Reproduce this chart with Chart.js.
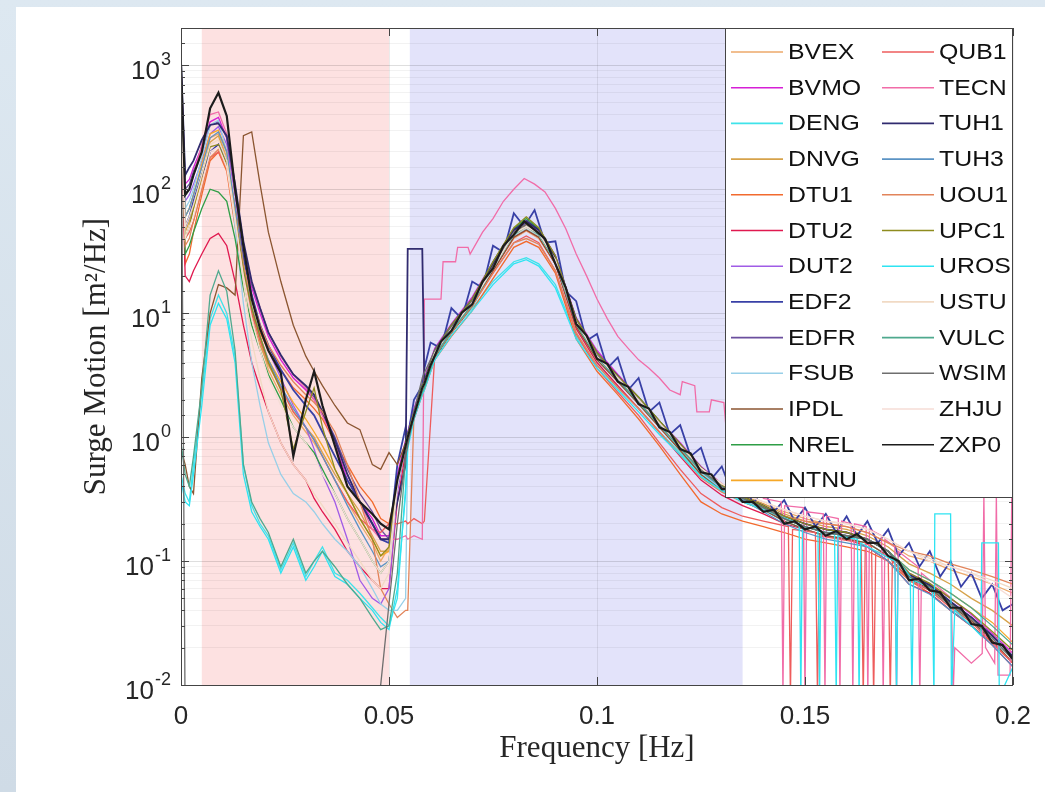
<!DOCTYPE html>
<html>
<head>
<meta charset="utf-8">
<script src="https://cdn.jsdelivr.net/npm/chart.js@4.4.1/dist/chart.umd.min.js"></script>
<style>
	html, body { margin: 0; padding: 0; }
	body { width: 1045px; height: 792px; position: relative; overflow: hidden; background: linear-gradient(180deg, #dde8f1 0%, #cfdbe6 100%); }
	#panel { position: absolute; left: 16px; top: 7px; right: 0; bottom: 0; background: #fff; }
	#chart { position: absolute; left: 0; top: 0; }
</style>
</head>
<body>
<div id="panel"></div>
<canvas id="chart" width="1045" height="792"></canvas>
<script>
// frequency grid [Hz], shared by all series
var freq = [0, 0.001, 0.002, 0.003, 0.005, 0.007, 0.009, 0.011, 0.013, 0.015,
	0.017, 0.019, 0.021, 0.024, 0.027, 0.030, 0.032, 0.034, 0.037, 0.040,
	0.043, 0.046, 0.048, 0.050, 0.052, 0.054, 0.0545, 0.056, 0.058, 0.0585,
	0.061, 0.065, 0.070, 0.075, 0.080, 0.083, 0.086, 0.090, 0.095, 0.100,
	0.105, 0.110, 0.115, 0.120, 0.125, 0.130, 0.135, 0.140, 0.145, 0.150,
	0.155, 0.160, 0.165, 0.170, 0.175, 0.180, 0.185, 0.190, 0.195, 0.200];

// surge PSD [m^2/Hz], one value per freq point
var bvex = [900, 60, 70, 90, 150, 260, 280, 180, 60, 22, 10, 6, 3.5, 2.2, 1.5, 1.1, 0.9, 0.7, 0.45, 0.3, 0.2, 0.14, 0.1,
	0.13, 0.4, 0.8, 0.95, 1.5, 2.4, 2.6, 4.6, 7.2, 12, 22, 40, 46, 40, 25, 8.2, 4.4, 2.9, 1.9, 1.25, 0.8, 0.52, 0.4, 0.33, 0.29, 0.25, 0.22, 0.2, 0.19, 0.17, 0.14, 0.11, 0.1, 0.085, 0.075, 0.065, 0.055];
var bvmo = [1000, 110, 120, 150, 220, 350, 380, 260, 95, 32, 16, 10, 6.5, 4.2, 3.0, 2.4, 2.0, 1.5, 0.9, 0.45, 0.3, 0.22, 0.16,
	0.16, 0.5, 0.95, 1.1, 1.7, 2.7, 3.0, 5.2, 8.2, 13.5, 26, 48, 56, 48, 29, 9.2, 5.0, 3.2, 2.1, 1.35, 0.9, 0.58, 0.42, 0.33, 0.28, 0.23, 0.2, 0.18, 0.17, 0.15, 0.12, 0.08, 0.065, 0.05, 0.037, 0.026, 0.018];
var deng = [0.5, 0.35, 0.3, 0.6, 2.2, 9, 14, 10, 4.5, 0.6, 0.28, 0.2, 0.16, 0.085, 0.14, 0.075, 0.1, 0.13, 0.08, 0.07, 0.055, 0.042, 0.035,
	0.03, 0.05, 0.4, 0.9, 1.5, 2.4, 2.6, 4.5, 7, 11, 18, 26, 28, 25, 17, 6.5, 3.8, 2.5, 1.7, 1.1, 0.75, 0.5, 0.38, 0.31, 0.26, 0.21, 0.18, 0.16, 0.15, 0.14, 0.11, 0.07, 0.058, 0.043, 0.032, 0.023, 0.015];
var dnvg = [700, 45, 55, 70, 120, 240, 270, 170, 55, 20, 9, 5.5, 3.8, 2.5, 1.6, 1.2, 1.0, 0.75, 0.5, 0.35, 0.25, 0.16, 0.12,
	0.12, 0.42, 0.85, 1.0, 1.55, 2.5, 2.7, 4.8, 7.5, 12.5, 24, 44, 50, 44, 27, 8.5, 4.6, 3.0, 2.0, 1.3, 0.85, 0.56, 0.42, 0.34, 0.29, 0.24, 0.21, 0.19, 0.18, 0.16, 0.13, 0.095, 0.08, 0.065, 0.05, 0.04, 0.03];
var dtu1 = [600, 25, 30, 45, 90, 170, 200, 140, 50, 20, 10, 7, 5, 3.5, 2.5, 2.0, 1.7, 1.4, 0.9, 0.6, 0.4, 0.3, 0.22,
	0.2, 0.4, 0.8, 0.9, 1.4, 2.2, 2.4, 4.2, 6.5, 10.5, 19, 34, 38, 34, 21, 6.2, 3.4, 2.2, 1.4, 0.85, 0.5, 0.3, 0.24, 0.21, 0.19, 0.17, 0.15, 0.14, 0.13, 0.12, 0.1, 0.07, 0.055, 0.04, 0.03, 0.022, 0.015];
var dtu2 = [500, 20, 18, 22, 30, 40, 44, 35, 18, 8, 4, 2.5, 1.6, 0.9, 0.6, 0.45, 0.32, 0.25, 0.18, 0.12, 0.09, 0.07, 0.06,
	0.06, 0.3, 0.75, 0.9, 1.45, 2.3, 2.5, 4.5, 7, 11.5, 22, 41, 47, 41, 25, 7.5, 4.0, 2.6, 1.7, 1.1, 0.7, 0.45, 0.34, 0.28, 0.24, 0.2, 0.18, 0.16, 0.15, 0.13, 0.1, 0.065, 0.055, 0.04, 0.03, 0.021, 0.014];
var dut2 = [900, 80, 90, 110, 170, 280, 320, 230, 90, 30, 14, 8, 5, 3, 1.8, 1.2, 0.8, 0.5, 0.3, 0.15, 0.07, 0.05, 0.045,
	0.06, 0.35, 0.9, 1.05, 1.6, 2.6, 2.8, 5.0, 7.8, 12.8, 25, 46, 53, 46, 28, 8.8, 4.7, 3.1, 2.0, 1.3, 0.86, 0.56, 0.41, 0.33, 0.27, 0.22, 0.19, 0.17, 0.16, 0.15, 0.12, 0.078, 0.064, 0.047, 0.035, 0.025, 0.017];
var edf2 = [800, 50, 60, 80, 130, 200, 230, 170, 70, 28, 14, 8, 5.5, 3.5, 2.4, 1.8, 1.5, 1.1, 0.7, 0.45, 0.3, 0.2, 0.15,
	0.14, 0.6, 1.2, 1.0, 2.0, 2.6, 3.6];
var edfr = [1000, 100, 110, 140, 200, 330, 350, 260, 100, 35, 17, 11, 7, 4.5, 3.2, 2.5, 2.1, 1.6, 1.0, 0.55, 0.35, 0.25, 0.18,
	0.15, 0.45, 0.9, 1.05, 1.6, 2.6, 2.9, 5.1, 8, 13, 25, 47, 56, 48, 29, 9, 4.8, 3.1, 2.1, 1.35, 0.88, 0.57, 0.41, 0.33, 0.28, 0.22, 0.19, 0.17, 0.16, 0.15, 0.12, 0.075, 0.063, 0.046, 0.035, 0.025, 0.017];
var fsub = [1100, 70, 80, 100, 180, 330, 360, 200, 50, 12, 4, 1.8, 0.9, 0.5, 0.35, 0.3, 0.25, 0.2, 0.15, 0.12, 0.09, 0.06, 0.045,
	0.04, 0.04, 0.05, 0.9, 1.5, 2.4, 2.6, 4.7, 7.3, 12, 23, 42, 48, 42, 26, 8.2, 4.4, 2.9, 1.9, 1.25, 0.8, 0.52, 0.38, 0.31, 0.26, 0.21, 0.18, 0.16, 0.15, 0.14, 0.11, 0.07, 0.06, 0.045, 0.033, 0.024, 0.016];
var ipdl = [0.8, 0.6, 0.4, 0.35, 3, 10, 17, 16, 14, 270, 290, 110, 45, 18, 8, 4.5, 3.4, 2.6, 1.8, 1.3, 1.15, 0.6, 0.55,
	0.75, 0.6, 0.9, 1.0, 1.4, 2.3, 2.5, 4.4, 6.9, 11.4, 22, 41, 47, 41, 25, 7.8, 4.2, 2.8, 1.85, 1.2, 0.78, 0.5, 0.37, 0.3, 0.26, 0.21, 0.18, 0.16, 0.15, 0.14, 0.11, 0.072, 0.06, 0.044, 0.033, 0.023, 0.015];
var nrel = [800, 30, 35, 45, 70, 100, 95, 80, 40, 16, 8, 5, 3.2, 2.0, 1.2, 0.9, 0.75, 0.55, 0.35, 0.22, 0.15, 0.1, 0.08,
	0.1, 0.42, 0.88, 1.02, 1.6, 2.6, 2.8, 5.0, 8, 13, 26, 48, 58, 48, 28, 9, 4.8, 3.1, 2.1, 1.35, 0.88, 0.57, 0.41, 0.33, 0.27, 0.22, 0.19, 0.17, 0.16, 0.15, 0.12, 0.075, 0.063, 0.046, 0.035, 0.025, 0.017];
var ntnu = [700, 60, 70, 90, 160, 280, 300, 200, 70, 25, 11, 6.5, 4.2, 2.8, 1.9, 1.4, 1.1, 0.85, 0.55, 0.35, 0.22, 0.15, 0.11,
	0.12, 0.44, 0.86, 1.0, 1.55, 2.5, 2.7, 4.8, 7.6, 12.4, 24, 45, 52, 45, 27, 8.6, 4.6, 3.0, 2.0, 1.3, 0.85, 0.55, 0.41, 0.33, 0.28, 0.23, 0.2, 0.18, 0.17, 0.15, 0.12, 0.085, 0.07, 0.055, 0.042, 0.032, 0.022];
var qub1 = [900, 40, 45, 55, 100, 180, 200, 150, 60, 22, 10, 6, 4, 2.5, 1.6, 1.2, 0.95, 0.7, 0.45, 0.3, 0.22, 0.18, 0.17,
	0.2, 0.2, 0.21, 0.2, 0.22, 0.2, 0.21, 4.5, 7, 11.5, 21, 37, 42, 37, 22, 6.8, 3.6, 2.3, 1.5, 0.9, 0.55, 0.35, 0.27, 0.23, 0.21];
var tecn = [1000, 90, 100, 130, 230, 400, 420, 280, 100, 36, 18, 11, 7, 4.5, 3.2, 2.5, 2.0, 1.5, 0.9, 0.5, 0.3, 0.18, 0.15,
	0.15, 0.15, 0.16, 0.15, 0.16, 0.15, 13];
var tuh1 = [1100, 130, 150, 170, 250, 330, 340, 270, 110, 38, 18, 11, 7, 4.6, 3.2, 2.6, 2.2, 1.6, 0.95, 0.5, 0.3, 0.2, 0.15,
	0.15, 0.3, 0.6, 33, 33, 33, 2.7, 4.9, 7.8, 12.8, 25, 47, 55, 47, 28, 8.8, 4.7, 3.1, 2.0, 1.3, 0.86, 0.56, 0.41, 0.33, 0.28, 0.23, 0.2, 0.18, 0.17, 0.15, 0.12, 0.078, 0.064, 0.047, 0.035, 0.025, 0.017];
var tuh3 = [900, 60, 70, 90, 150, 260, 290, 200, 70, 24, 11, 6.5, 4.2, 2.6, 1.7, 1.2, 0.95, 0.7, 0.45, 0.28, 0.18, 0.12, 0.09,
	0.1, 0.4, 0.82, 0.96, 1.5, 2.4, 2.6, 4.6, 7.3, 12, 23, 43, 50, 43, 26, 8.3, 4.4, 2.9, 1.9, 1.25, 0.82, 0.53, 0.39, 0.31, 0.25, 0.2, 0.17, 0.15, 0.14, 0.13, 0.1, 0.065, 0.054, 0.04, 0.03, 0.021, 0.014];
var uou1 = [800, 35, 40, 55, 100, 180, 210, 150, 60, 24, 13, 8, 5.5, 3.8, 2.8, 2.2, 1.9, 1.6, 1.1, 0.6, 0.3, 0.15, 0.06,
	0.045, 0.035, 0.04, 0.04, 1.5, 2.4, 2.6, 4.5, 7, 11.5, 21, 37, 40, 36, 22, 7, 3.8, 2.5, 1.7, 1.1, 0.72, 0.47, 0.36, 0.3, 0.26, 0.23, 0.21, 0.2, 0.19, 0.17, 0.14, 0.12, 0.11, 0.095, 0.085, 0.075, 0.065];
var upc1 = [700, 40, 50, 70, 130, 220, 230, 160, 60, 22, 11, 6.5, 4, 2.4, 0.8, 1.6, 2.5, 1.2, 0.55, 0.35, 0.22, 0.15, 0.11,
	0.13, 0.45, 0.9, 1.05, 1.6, 2.6, 2.8, 5.0, 8, 13, 26, 49, 60, 49, 29, 9, 4.8, 3.1, 2.1, 1.35, 0.88, 0.57, 0.41, 0.33, 0.28, 0.23, 0.2, 0.18, 0.17, 0.15, 0.12, 0.08, 0.066, 0.05, 0.038, 0.027, 0.019];
var uros = [0.45, 0.3, 0.28, 0.5, 1.8, 8, 12, 9, 4, 0.5, 0.25, 0.19, 0.15, 0.08, 0.13, 0.07, 0.09, 0.12, 0.075, 0.065, 0.05, 0.04, 0.032,
	0.028, 0.06, 0.35, 0.8, 1.4, 2.2, 2.4, 4.2, 6.6, 10.5, 17, 25, 27, 24, 16, 6.2, 3.6, 2.4, 1.6, 1.05, 0.72, 0.48, 0.37, 0.3, 0.26];
var ustu = [600, 50, 60, 75, 130, 230, 250, 170, 60, 18, 6, 3, 1.6, 0.9, 0.6, 0.45, 0.35, 0.28, 0.2, 0.14, 0.1, 0.07, 0.06,
	0.08, 0.4, 0.85, 1.0, 1.55, 2.5, 2.7, 4.8, 7.5, 12.3, 23, 43, 49, 43, 26, 8.4, 4.6, 3.0, 2.0, 1.3, 0.85, 0.56, 0.42, 0.35, 0.3, 0.26, 0.23, 0.21, 0.2, 0.18, 0.15, 0.12, 0.105, 0.09, 0.08, 0.07, 0.06];
var vulc = [0.9, 0.5, 0.4, 0.7, 2.5, 14, 22, 15, 5, 0.6, 0.3, 0.22, 0.17, 0.09, 0.15, 0.08, 0.1, 0.12, 0.09, 0.065, 0.05, 0.035, 0.028,
	0.03, 0.08, 0.7, 0.9, 1.45, 2.3, 2.5, 4.5, 7.1, 11.8, 23, 43, 50, 43, 26, 8.2, 4.4, 2.9, 1.9, 1.25, 0.82, 0.53, 0.4, 0.32, 0.27, 0.22, 0.19, 0.17, 0.16, 0.15, 0.12, 0.085, 0.07, 0.055, 0.042, 0.03, 0.021];
var wsim = [1200, 0.005, 0.005, 0.005, 0.005, 0.005, 0.005, 0.005, 0.005, 0.005, 0.005, 0.005, 0.005, 0.005, 0.005, 0.005, 0.005, 0.005, 0.005, 0.005, 0.005, 0.005, 0.01,
	0.045, 0.2, 0.7, 0.85, 1.6, 3.0, 3.3, 5.0, 7.8, 12.6, 24, 45, 52, 45, 27, 8.6, 4.6, 3.0, 2.0, 1.3, 0.85, 0.55, 0.4, 0.32, 0.27, 0.22, 0.19, 0.17, 0.16, 0.15, 0.12, 0.075, 0.062, 0.045, 0.034, 0.024, 0.016];
var zhju = [500, 40, 50, 60, 110, 200, 220, 150, 55, 20, 9, 5, 3, 1.8, 1.2, 0.9, 0.7, 0.5, 0.35, 0.22, 0.15, 0.1, 0.08,
	0.1, 0.42, 0.85, 1.0, 1.5, 2.5, 2.7, 4.8, 7.5, 12.2, 23, 44, 50, 44, 27, 8.5, 4.5, 3.0, 2.0, 1.3, 0.85, 0.56, 0.42, 0.35, 0.3, 0.26, 0.23, 0.21, 0.2, 0.18, 0.15, 0.12, 0.1, 0.09, 0.08, 0.065, 0.05];
var zxp0 = [1000, 90, 100, 130, 200, 450, 600, 390, 100, 35, 13, 7.5, 5, 3.3, 0.7, 2.0, 3.4, 1.8, 0.85, 0.4, 0.3, 0.24, 0.2,
	0.18, 0.45, 0.85, 1.0, 1.5, 2.5, 2.7];

// finer frequency points for the jagged wave-band records
var fineF = [0.060, 0.0625, 0.065, 0.0675, 0.070, 0.0725, 0.075, 0.0775, 0.080, 0.0825,
	0.085, 0.0875, 0.090, 0.0925, 0.095, 0.0975, 0.100, 0.1025, 0.105, 0.1075,
	0.110, 0.1125, 0.115, 0.1175, 0.120, 0.1225, 0.125, 0.1275, 0.130, 0.1325,
	0.135, 0.1375, 0.140, 0.1425, 0.145, 0.1475, 0.150, 0.1525, 0.155, 0.1575,
	0.160, 0.1625, 0.165, 0.1675, 0.170, 0.1725, 0.175, 0.1775, 0.180, 0.1825,
	0.185, 0.1875, 0.190, 0.1925, 0.195, 0.1975, 0.200];
var edf2Fine = [5.8, 5.2, 11, 9, 18, 16, 35, 31, 64, 50,
	68, 37, 38, 15, 12.5, 6, 6.8, 3.6, 4.4, 2.4,
	3.0, 1.6, 1.9, 1.05, 1.25, 0.7, 0.82, 0.46, 0.58, 0.35,
	0.46, 0.29, 0.38, 0.25, 0.31, 0.21, 0.27, 0.19, 0.24, 0.17,
	0.23, 0.16, 0.21, 0.14, 0.18, 0.11, 0.14, 0.09, 0.12, 0.075,
	0.1, 0.062, 0.08, 0.05, 0.065, 0.04, 0.045];
var zxp0Fine = [3.8, 5.9, 7.2, 10.1, 11.8, 18, 23, 35, 43, 55,
	47, 40, 25, 16, 8.2, 6.6, 4.3, 3.9, 2.8, 2.55,
	1.85, 1.7, 1.2, 1.1, 0.8, 0.74, 0.52, 0.5, 0.38, 0.38,
	0.3, 0.3, 0.25, 0.26, 0.2, 0.21, 0.18, 0.19, 0.16, 0.175,
	0.15, 0.165, 0.14, 0.14, 0.11, 0.1, 0.07, 0.072, 0.058, 0.056,
	0.042, 0.042, 0.031, 0.03, 0.022, 0.021, 0.016];
var tecnWaveF = [0.0625, 0.063, 0.066, 0.0665, 0.069, 0.0695, 0.0725, 0.075, 0.0775, 0.080, 0.0825, 0.085, 0.0875, 0.090,
	0.0925, 0.095, 0.0975, 0.100, 0.1025, 0.105, 0.1075, 0.110, 0.1125, 0.115, 0.1175, 0.120, 0.1205,
	0.1235, 0.124, 0.127, 0.1275, 0.1305, 0.131, 0.134, 0.1345, 0.1375, 0.140];
var tecnWaveV = [13, 26, 26, 34, 34, 30, 45, 58, 80, 100, 122, 110, 95, 70,
	48, 30, 20, 13, 9, 6.5, 5.2, 4.2, 3.6, 3.0, 2.4, 2.2, 2.8,
	2.6, 1.6, 1.6, 2.0, 1.9, 1.2, 1.2, 0.7, 0.5, 0.32];

// high frequency tails with dropouts (own frequency points)
var qub1HiF = [0.146, 0.1465, 0.147, 0.1525, 0.153, 0.1535, 0.1635, 0.164, 0.1645, 0.166, 0.1665, 0.167, 0.170, 0.1705, 0.171, 0.175, 0.180, 0.185, 0.190, 0.195, 0.200];
var qub1HiV = [0.19, 0.008, 0.18, 0.17, 0.008, 0.16, 0.14, 0.008, 0.14, 0.13, 0.008, 0.12, 0.11, 0.008, 0.1, 0.07, 0.058, 0.042, 0.032, 0.022, 0.015];
var tecnHiF = [0.1443, 0.1447, 0.1451, 0.1496, 0.15, 0.1504, 0.1544, 0.1548, 0.1552, 0.158, 0.1584, 0.1588, 0.1611, 0.1615, 0.1619,
	0.1647, 0.1651, 0.1655, 0.1684, 0.1688, 0.1692, 0.1716, 0.172, 0.1724, 0.1772, 0.1776, 0.178, 0.1852, 0.1856, 0.186,
	0.19, 0.1926, 0.193, 0.1934, 0.1956, 0.196, 0.1964, 0.1993, 0.1997];
var tecnHiV = [0.3, 0.008, 0.28, 0.27, 0.008, 0.25, 0.24, 0.008, 0.23, 0.22, 0.008, 0.21, 0.2, 0.008, 0.2,
	0.19, 0.008, 0.18, 0.16, 0.008, 0.15, 0.13, 0.008, 0.12, 0.09, 0.008, 0.08, 0.05, 0.008, 0.02,
	0.015, 0.018, 0.35, 0.02, 0.015, 0.35, 0.012, 0.012, 0.35];
var urosHiF = [0.1486, 0.149, 0.1494, 0.1531, 0.1535, 0.1539, 0.1571, 0.1575, 0.1579, 0.1626, 0.163, 0.1634, 0.1716, 0.172, 0.1724,
	0.1753, 0.1757, 0.1761, 0.1806, 0.181, 0.1812, 0.185, 0.1852, 0.186, 0.19, 0.1923, 0.1925, 0.1965, 0.1967, 0.2];
var urosHiV = [0.2, 0.008, 0.19, 0.18, 0.008, 0.17, 0.17, 0.008, 0.16, 0.15, 0.008, 0.14, 0.1, 0.008, 0.1,
	0.075, 0.008, 0.07, 0.06, 0.008, 0.24, 0.24, 0.008, 0.04, 0.03, 0.025, 0.14, 0.14, 0.008, 0.014];

var pinkBand = [0.005, 0.05];
var blueBand = [0.055, 0.135];
var yDecades = [-2, -1, 0, 1, 2, 3];

var names = ["BVEX", "BVMO", "DENG", "DNVG", "DTU1", "DTU2", "DUT2", "EDF2", "EDFR", "FSUB", "IPDL", "NREL", "NTNU",
	"QUB1", "TECN", "TUH1", "TUH3", "UOU1", "UPC1", "UROS", "USTU", "VULC", "WSIM", "ZHJU", "ZXP0"];
var colors = ["#eda86a", "#d61fd6", "#3fe3ea", "#d6a24a", "#f26a2e", "#e0194f", "#a05ce6", "#3840a6", "#6b4f9e", "#98cfe8", "#8b5530", "#2e9e46", "#f6a828",
	"#ee5c5c", "#f16ca8", "#302b6f", "#5b93c4", "#e2845a", "#8e8c1e", "#2ee4f2", "#f1dac4", "#4fa98e", "#6e6e6e", "#f6ddd6", "#1c1c1c"];
var series = [bvex, bvmo, deng, dnvg, dtu1, dtu2, dut2, edf2, edfr, fsub, ipdl, nrel, ntnu,
	qub1, tecn, tuh1, tuh3, uou1, upc1, uros, ustu, vulc, wsim, zhju, zxp0];
var tails = {
	EDF2: [[fineF, edf2Fine]],
	ZXP0: [[fineF, zxp0Fine]],
	QUB1: [[qub1HiF, qub1HiV]],
	TECN: [[tecnWaveF, tecnWaveV], [tecnHiF, tecnHiV]],
	UROS: [[urosHiF, urosHiV]]
};

function points(vals, extra) {
	var pts = vals.map(function (v, i) { return { x: freq[i], y: v }; });
	(extra || []).forEach(function (part) {
		part[0].forEach(function (f, i) { pts.push({ x: f, y: part[1][i] }); });
	});
	return pts;
}

var sans = '"Liberation Sans", Arial, sans-serif';
var serif = '"Liberation Serif", "Times New Roman", serif';

// shaded frequency bands behind everything
var bandPlugin = {
	id: "bands",
	beforeDraw: function (chart) {
		var ctx = chart.ctx, a = chart.chartArea, x = chart.scales.x;
		ctx.save();
		ctx.fillStyle = "#fde1e1";
		var p0 = x.getPixelForValue(pinkBand[0]), p1 = x.getPixelForValue(pinkBand[1]);
		ctx.fillRect(p0, a.top, p1 - p0, a.bottom - a.top);
		ctx.fillStyle = "#e3e3fa";
		var b0 = x.getPixelForValue(blueBand[0]), b1 = x.getPixelForValue(blueBand[1]);
		ctx.fillRect(b0, a.top, b1 - b0, a.bottom - a.top);
		ctx.restore();
	}
};

// matlab style box, inside ticks, labels and legend
var framePlugin = {
	id: "frame",
	afterDraw: function (chart) {
		var ctx = chart.ctx, a = chart.chartArea, xs = chart.scales.x, ys = chart.scales.y;
		ctx.save();
		ctx.strokeStyle = "#444";
		ctx.lineWidth = 1;
		ctx.strokeRect(Math.round(a.left) + 0.5, Math.round(a.top) + 0.5, Math.round(a.right - a.left) - 1, Math.round(a.bottom - a.top));

		ctx.beginPath();
		xs.ticks.forEach(function (t) {
			var px = Math.round(xs.getPixelForValue(t.value)) + 0.5;
			ctx.moveTo(px, a.bottom); ctx.lineTo(px, a.bottom - 8);
			ctx.moveTo(px, a.top); ctx.lineTo(px, a.top + 8);
		});
		ys.ticks.forEach(function (t) {
			if (t.value >= ys.max) return;
			var py = Math.round(ys.getPixelForValue(t.value)) + 0.5;
			var len = t.major ? 8 : 4;
			ctx.moveTo(a.left, py); ctx.lineTo(a.left + len, py);
			ctx.moveTo(a.right, py); ctx.lineTo(a.right - len, py);
		});
		ctx.stroke();

		// x tick labels
		ctx.fillStyle = "#262626";
		ctx.font = "26px " + sans;
		ctx.textAlign = "center";
		ctx.textBaseline = "middle";
		xs.ticks.forEach(function (t) {
			ctx.fillText(String(parseFloat(t.value.toFixed(3))), xs.getPixelForValue(t.value), a.bottom + 32);
		});

		// y tick labels 10^p
		yDecades.forEach(function (p) {
			var py = ys.getPixelForValue(Math.pow(10, p));
			var exp = String(p);
			ctx.font = "18px " + sans;
			var we = ctx.measureText(exp).width;
			ctx.textAlign = "left";
			ctx.fillText(exp, a.left - 10 - we, py - 5);
			ctx.font = "26px " + sans;
			ctx.textAlign = "right";
			ctx.fillText("10", a.left - 11 - we, py + 7);
		});

		// axis titles
		ctx.font = "31px " + serif;
		ctx.textAlign = "center";
		ctx.fillText("Frequency [Hz]", (a.left + a.right) / 2, a.bottom + 64);
		ctx.save();
		ctx.translate(97, (a.top + a.bottom) / 2);
		ctx.rotate(-Math.PI / 2);
		ctx.fillText("Surge Motion [m\u00b2/Hz]", 0, 0);
		ctx.restore();

		// legend, two columns
		var bw = 288, bh = 469, bx = a.right - bw, by = a.top;
		ctx.fillStyle = "#fff";
		ctx.fillRect(bx, by, bw, bh);
		ctx.strokeStyle = "#444";
		ctx.strokeRect(Math.round(bx) + 0.5, Math.round(by) + 0.5, bw - 1, bh);
		ctx.font = "22px " + sans;
		ctx.textAlign = "left";
		chart.data.datasets.forEach(function (ds, i) {
			var col = i < 13 ? 0 : 1, row = i < 13 ? i : i - 13;
			var lx = bx + 6 + col * 151, ly = by + 24 + row * 35.7;
			ctx.strokeStyle = ds.borderColor;
			ctx.lineWidth = 1.6;
			ctx.beginPath();
			ctx.moveTo(lx, ly); ctx.lineTo(lx + 52, ly);
			ctx.stroke();
			ctx.fillStyle = "#111";
			ctx.save();
			ctx.translate(lx + 57, ly + 1);
			ctx.scale(1.13, 1);
			ctx.fillText(ds.label, 0, 0);
			ctx.restore();
		});
		ctx.restore();
	}
};

var ctx = document.getElementById("chart").getContext("2d");
var myChart = new Chart(ctx, {
	type: "line",
	data: {
		datasets: names.map(function (n, i) {
			return {
				label: n,
				data: points(series[i], tails[n]),
				borderColor: colors[i],
				backgroundColor: colors[i],
				borderWidth: n === "ZXP0" ? 2.2 : (n === "EDF2" || n === "TUH1" ? 1.8 : 1.3),
				pointRadius: 0,
				tension: 0,
				fill: false,
				order: names.length - i
			};
		})
	},
	options: {
		responsive: false,
		animation: false,
		events: [],
		layout: { padding: { left: 181, right: 32, top: 28, bottom: 107 } },
		plugins: { legend: { display: false }, tooltip: { enabled: false } },
		scales: {
			x: {
				type: "linear", min: 0, max: 0.2,
				ticks: { display: false, stepSize: 0.05 },
				grid: { drawTicks: false, color: "rgba(0,0,0,0.08)" },
				border: { display: false }
			},
			y: {
				type: "logarithmic", min: 0.01, max: 2000,
				ticks: { display: false, autoSkip: false },
				grid: {
					drawTicks: false,
					color: function (c) { return c.tick && c.tick.major ? "rgba(0,0,0,0.13)" : "rgba(0,0,0,0.05)"; }
				},
				border: { display: false }
			}
		}
	},
	plugins: [bandPlugin, framePlugin]
});
</script>
</body>
</html>
